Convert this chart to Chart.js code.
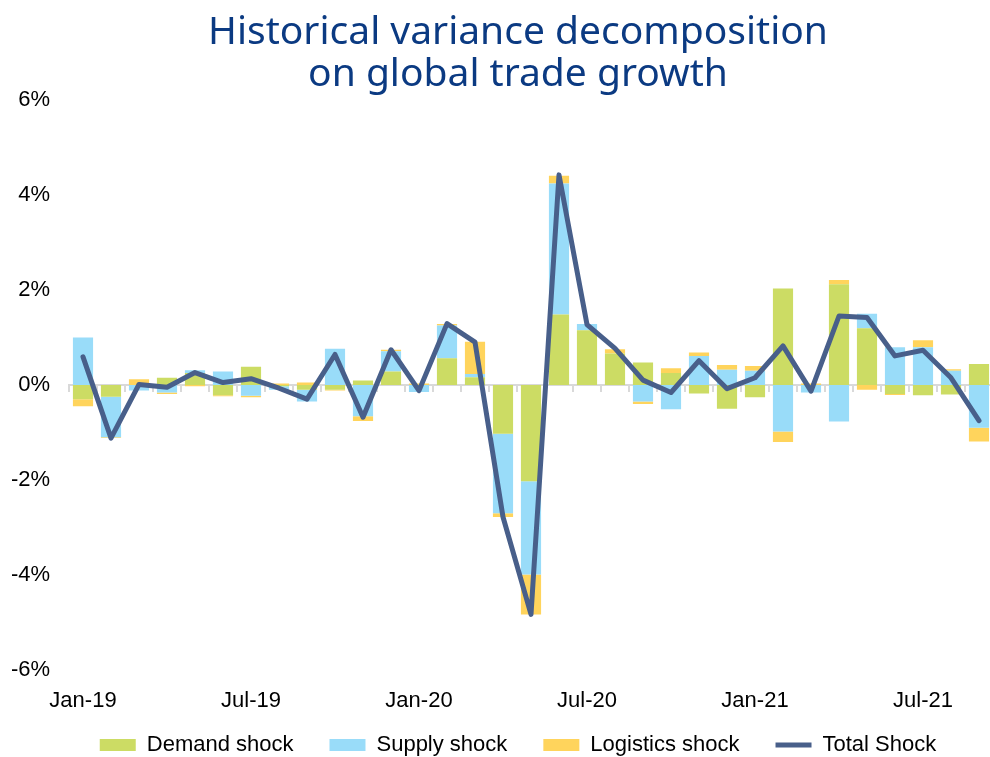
<!DOCTYPE html>
<html><head><meta charset="utf-8">
<script src="https://cdn.jsdelivr.net/npm/chart.js@4.4.0/dist/chart.umd.min.js"></script>
<style>html,body{margin:0;padding:0;background:#fff;overflow:hidden;width:990px;height:757px}canvas{display:block}</style>
</head><body>
<canvas id="c" width="1036" height="757"></canvas>
<script>
const months = ['Jan-19','Feb-19','Mar-19','Apr-19','May-19','Jun-19','Jul-19','Aug-19','Sep-19','Oct-19','Nov-19','Dec-19',
  'Jan-20','Feb-20','Mar-20','Apr-20','May-20','Jun-20','Jul-20','Aug-20','Sep-20','Oct-20','Nov-20','Dec-20',
  'Jan-21','Feb-21','Mar-21','Apr-21','May-21','Jun-21','Jul-21','Aug-21','Sep-21'];
const tickLabels = ['Jan-19','Jul-19','Jan-20','Jul-20','Jan-21','Jul-21'];
const demand = [-0.30,-0.25,0.00,0.15,0.25,-0.22,0.38,-0.03,-0.10,-0.10,0.09,0.28,
  0.00,0.56,0.16,-1.03,-2.03,1.48,1.15,0.66,0.47,0.25,-0.18,-0.50,
  -0.26,2.03,0.00,2.12,1.19,-0.19,-0.22,-0.20,0.44];
const supply = [1.00,-0.85,-0.12,-0.16,0.06,0.28,-0.23,-0.07,-0.25,0.76,-0.66,0.43,
  -0.15,0.69,0.07,-1.67,-1.96,2.76,0.13,0.00,-0.35,-0.51,0.61,0.32,
  0.30,-0.98,-0.16,-0.77,0.31,0.79,0.79,0.30,-0.90];
const logistics = [-0.15,-0.02,0.12,-0.03,-0.03,-0.02,-0.03,0.03,0.05,-0.02,-0.10,0.03,
  0.03,0.03,0.68,-0.08,-0.84,0.16,0.00,0.09,-0.05,0.10,0.07,0.10,
  0.10,-0.22,0.03,0.09,-0.10,-0.02,0.15,0.03,-0.29];
const total = [0.59,-1.12,0.01,-0.05,0.26,0.05,0.13,-0.07,-0.30,0.64,-0.68,0.74,
  -0.12,1.29,0.90,-2.78,-4.83,4.42,1.27,0.77,0.10,-0.16,0.51,-0.08,
  0.15,0.82,-0.13,1.45,1.42,0.61,0.73,0.15,-0.75];
const yTicks = [-6,-4,-2,0,2,4,6];

const txt = '#000000';
const baseFont = {family: "'Liberation Sans', Arial, sans-serif", size: 22};

new Chart(document.getElementById('c'), {
  data: {
    labels: months,
    datasets: [
      {type:'bar', label:'Demand shock', data: demand, backgroundColor:'#CCDC64', borderWidth:0, order:1, stack:'s', barPercentage:1, categoryPercentage:0.72},
      {type:'bar', label:'Supply shock', data: supply, backgroundColor:'#99DCF9', borderWidth:0, order:1, stack:'s', barPercentage:1, categoryPercentage:0.72},
      {type:'bar', label:'Logistics shock', data: logistics, backgroundColor:'#FFD45C', borderWidth:0, order:1, stack:'s', barPercentage:1, categoryPercentage:0.72},
      {type:'line', label:'Total Shock', data: total, borderColor:'#485F8A', backgroundColor:'#485F8A', borderWidth:5,
       pointRadius:0, tension:0, borderJoinStyle:'round', borderCapStyle:'round', order:0, stack:'t'}
    ]
  },
  options: {
    responsive:false, animation:false, devicePixelRatio:1,
    layout:{padding:{left:0, right:0, top:0, bottom:-9}},
    scales: {
      x: {
        type:'category', stacked:true, offset:true, position:'bottom',
        grid:{display:false, drawTicks:false}, border:{display:false},
        ticks:{autoSkip:false, maxRotation:0, padding:18, color:txt, font:baseFont,
          callback:(v,i)=> tickLabels.includes(months[i]) ? months[i] : ''},
        afterFit:(s)=>{ s.height = 28; s._computeLabelArea = () => undefined; }
      },
      xz: {
        type:'category', position:{y:0}, offset:true,
        grid:{display:true, offset:true, drawOnChartArea:false, drawTicks:true, tickLength:6, color:'#D9D9D9', lineWidth:2},
        border:{display:true, color:'#D9D9D9', width:2},
        ticks:{display:false},
        afterFit:(s)=>{ s.height = 0; }
      },
      y: {
        type:'linear', stacked:true, min:-6, max:6,
        afterBuildTicks:(s)=>{ s.ticks = yTicks.map(v=>({value:v})); },
        grid:{display:false, drawTicks:false}, border:{display:false},
        ticks:{padding:19, color:txt, font:baseFont, callback:(v)=> v + '%'},
        afterFit:(s)=>{ s.width = 69; }
      },
      yr: {
        type:'linear', position:'right', min:-6, max:6,
        grid:{display:false, drawTicks:false}, border:{display:false},
        ticks:{display:false},
        afterFit:(s)=>{ s.width = 43; }
      }
    },
    plugins: {
      tooltip:{enabled:false},
      title:{display:true, text:['Historical variance decomposition','on global trade growth'],
        color:'#0B3A82', font:{family:"'Noto Sans', sans-serif", size:39, weight:'normal', lineHeight:1.1},
        padding:{top:11, bottom:3}},
      legend:{display:true, position:'bottom',
        labels:{usePointStyle:true, pointStyleWidth:36, boxHeight:12, padding:36, color:txt, font:baseFont,
          sort:(a,b)=>a.datasetIndex-b.datasetIndex,
          generateLabels:(chart)=>{
            const items = Chart.defaults.plugins.legend.labels.generateLabels(chart);
            items.forEach(it=>{
              if (it.datasetIndex===3){ it.pointStyle='line'; it.lineWidth=5; it.strokeStyle='#485F8A'; }
              else { it.pointStyle='rect'; it.lineWidth=0; }
            });
            return items;
          }}}
    }
  }
});
</script>
</body></html>
